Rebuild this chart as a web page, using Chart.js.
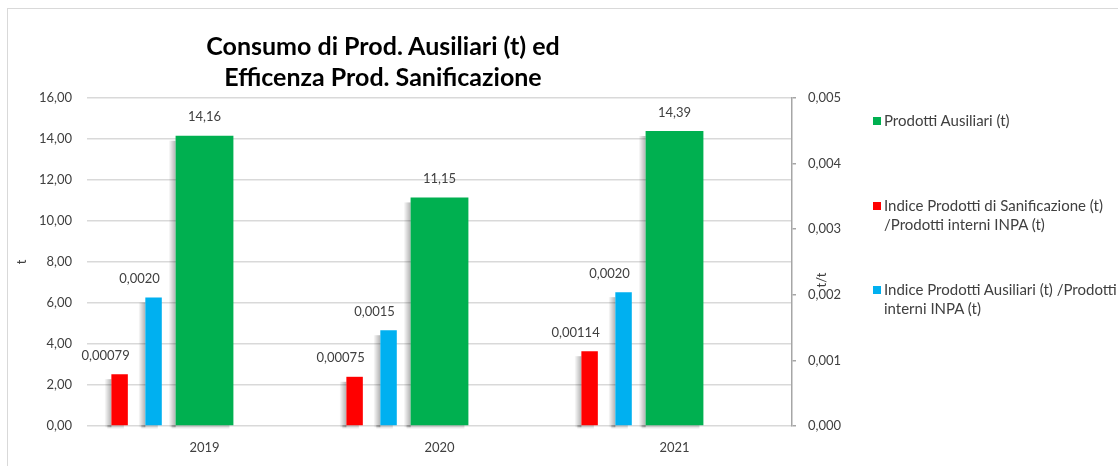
<!DOCTYPE html>
<html>
<head>
<meta charset="utf-8">
<script src="https://cdn.jsdelivr.net/npm/chart.js@4.4.1/dist/chart.umd.min.js"></script>
<style>
  body { margin: 0; background: #fff; }
  #wrap { position: relative; width: 1118px; height: 466px; overflow: hidden; font-family: Lato, "Open Sans", sans-serif; }
  #frame { position: absolute; left: 7px; top: 8px; width: 1300px; height: 700px; border: 1.5px solid #d9d9d9; }
  #chart { position: absolute; left: 0; top: 0; }
  #title { position: absolute; left: 183px; top: 30px; width: 400px; text-align: center; font-weight: bold; font-size: 25px; line-height: 31px; color: #000; white-space: nowrap; }
  #legend { position: absolute; left: 873px; top: 0; font-size: 15px; line-height: 19px; color: #404040; }
  .item { position: absolute; left: 0; white-space: nowrap; }
  .item i { position: absolute; left: 0; top: 6px; width: 8px; height: 8px; }
  .item span { display: block; margin-left: 11px; }
</style>
</head>
<body>
<div id="wrap">
  <div id="frame"></div>
  <canvas id="chart" width="1118" height="466"></canvas>
  <div id="title">Consumo di Prod. Ausiliari (t) ed<br>Efficenza Prod. Sanificazione</div>
  <div id="legend"></div>
</div>
<script>
// values
const years = ['2019', '2020', '2021'];
const auxProducts = [14.16, 11.15, 14.39];          // t, left axis
const sanitIndex = [0.00079, 0.00075, 0.00114];     // t/t, right axis
const auxIndex = [0.00196, 0.00146, 0.00204];       // t/t, right axis

const auxLabel = ['Prodotti Ausiliari (t)'];
const sanitLabel = ['Indice Prodotti di Sanificazione (t)', '/Prodotti interni INPA (t)'];
const auxIndexLabel = ['Indice Prodotti Ausiliari (t) /Prodotti', 'interni INPA (t)'];

const leftTicks = { min: 0, max: 16, step: 2 };
const rightTicks = { min: 0, max: 0.005, step: 0.001 };

const comma = (v, d) => v.toFixed(d).replace('.', ',');

Chart.defaults.font.family = 'Lato, "Open Sans", sans-serif';
Chart.defaults.font.size = 13;
Chart.defaults.color = '#595959';

// Excel-like soft shadow left of / under each bar (drawn before the bars)
const barShade = {
    id: 'barShade',
    beforeDatasetsDraw(chart) {
        const ctx = chart.ctx;
        ctx.save();
        chart.data.datasets.forEach((ds, i) => {
            chart.getDatasetMeta(i).data.forEach(bar => {
                const p = bar.getProps(['x', 'y', 'base', 'width'], true);
                const left = p.x - p.width / 2;
                const g = ctx.createLinearGradient(left - 7, 0, left, 0);
                g.addColorStop(0, 'rgba(0,0,0,0)');
                g.addColorStop(1, 'rgba(0,0,0,0.30)');
                ctx.fillStyle = g;
                ctx.fillRect(left - 7, p.y + 5, 7, p.base - p.y - 3);
                const gb = ctx.createLinearGradient(0, p.base, 0, p.base + 4);
                gb.addColorStop(0, 'rgba(0,0,0,0.22)');
                gb.addColorStop(1, 'rgba(0,0,0,0)');
                ctx.fillStyle = gb;
                ctx.fillRect(left - 4, p.base, p.width, 4);
            });
        });
        ctx.restore();
    }
};

// value labels above bars + rotated axis titles
const extraText = {
    id: 'extraText',
    afterDatasetsDraw(chart) {
        const ctx = chart.ctx;
        ctx.save();
        ctx.font = '13px Lato, "Open Sans", sans-serif';
        ctx.fillStyle = '#404040';
        ctx.textAlign = 'center';
        ctx.textBaseline = 'bottom';
        chart.data.datasets.forEach((ds, i) => {
            if (ds.decimals === undefined) return;
            chart.getDatasetMeta(i).data.forEach((bar, j) => {
                ctx.fillText(comma(ds.data[j], ds.decimals), bar.x + ds.labelShift, bar.y - 12);
            });
        });

        const area = chart.chartArea;
        const midY = (area.top + area.bottom) / 2;
        ctx.textBaseline = 'middle';
        ctx.translate(chart.scales.y.left + 22, midY);
        ctx.rotate(-Math.PI / 2);
        ctx.fillText('t', 0, 0);
        ctx.setTransform(1, 0, 0, 1, 0, 0);
        ctx.translate(chart.scales.y2.left + 30, midY + 18);
        ctx.rotate(-Math.PI / 2);
        ctx.fillText('t/t', 0, 0);
        ctx.restore();
    }
};

// the two index bars take slots 0 and 1 of a 6-slot group, so they land left of the green bar;
// the green bar is not grouped and stays centred on the year
const spacer = () => ({ label: '', data: [], yAxisID: 'y2', categoryPercentage: 0.867 });

const datasets = [
    {
        label: sanitLabel, data: sanitIndex, backgroundColor: '#ff0000',
        yAxisID: 'y2', categoryPercentage: 0.867, barPercentage: 0.485,
        decimals: 5, labelShift: -14
    },
    {
        label: auxIndexLabel, data: auxIndex, backgroundColor: '#00b0f0',
        yAxisID: 'y2', categoryPercentage: 0.867, barPercentage: 0.485,
        decimals: 4, labelShift: -14
    },
    spacer(), spacer(), spacer(), spacer(),
    {
        label: auxLabel, data: auxProducts, backgroundColor: '#00b050',
        yAxisID: 'y', grouped: false, categoryPercentage: 0.246, barPercentage: 1,
        decimals: 2, labelShift: 0
    }
];

new Chart(document.getElementById('chart'), {
    type: 'bar',
    data: { labels: years, datasets: datasets },
    plugins: [barShade, extraText],
    options: {
        responsive: false,
        animation: false,
        layout: { padding: { top: 98, right: 256, bottom: 0, left: 0 } },
        plugins: {
            legend: { display: false },
            tooltip: { enabled: false }
        },
        scales: {
            x: {
                type: 'category',
                offset: true,
                grid: { display: false },
                border: { display: false },
                ticks: { padding: 6, color: '#404040' },
                afterFit(scale) { scale.height = 40; }
            },
            y: {
                position: 'left',
                min: leftTicks.min,
                max: leftTicks.max,
                ticks: {
                    stepSize: leftTicks.step,
                    padding: 15,
                    color: '#404040',
                    callback: v => comma(v, 2)
                },
                grid: { color: '#d9d9d9', lineWidth: 1.5, drawTicks: false },
                border: { display: false },
                afterFit(scale) { scale.width = 87; }
            },
            y2: {
                position: 'right',
                min: rightTicks.min,
                max: rightTicks.max,
                ticks: {
                    stepSize: rightTicks.step,
                    padding: 12,
                    color: '#404040',
                    callback: v => comma(v, 3)
                },
                grid: { drawOnChartArea: false, color: '#a6a6a6', tickLength: 4, lineWidth: 1.5 },
                border: { color: '#a6a6a6', width: 1.5 },
                afterFit(scale) { scale.width = 70; }
            }
        }
    }
});

// legend in Excel order: primary series first, then the two indexes
const legendTops = [111, 196, 280];
const legendEl = document.getElementById('legend');
[datasets[6], datasets[0], datasets[1]].forEach((ds, k) => {
    const item = document.createElement('div');
    item.className = 'item';
    item.style.top = legendTops[k] + 'px';
    item.innerHTML = '<i style="background:' + ds.backgroundColor + '"></i>' +
        ds.label.map(t => '<span>' + t + '</span>').join('');
    legendEl.appendChild(item);
});
</script>
</body>
</html>
